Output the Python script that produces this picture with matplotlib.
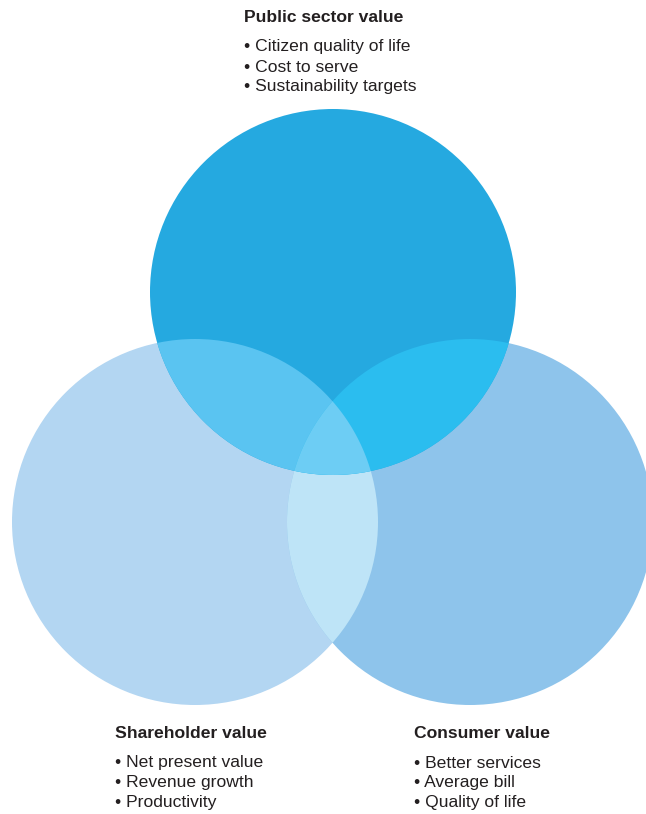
import numpy as np
import matplotlib.pyplot as plt
from matplotlib.patches import Circle, Polygon

plt.rcParams['font.family'] = ['Liberation Sans', 'DejaVu Sans']

# text content
titles = ['Public sector value', 'Shareholder value', 'Consumer value']
bullets = [
    ['Citizen quality of life', 'Cost to serve', 'Sustainability targets'],
    ['Net present value', 'Revenue growth', 'Productivity'],
    ['Better services', 'Average bill', 'Quality of life'],
]

# region colours
col_top = '#25a9e0'
col_left = '#b3d6f2'
col_right = '#8ec4eb'
col_top_left = '#5ac4f1'
col_top_right = '#2bbdef'
col_left_right = '#bee4f7'
col_all = '#6dcdf4'

R = 183
c_top = (333, 292)
c_left = (195, 522)
c_right = (470, 522)

fig = plt.figure(figsize=(6.46, 8.14), dpi=100)
ax = fig.add_axes([0, 0, 1, 1])
ax.set_xlim(0, 646)
ax.set_ylim(814, 0)
ax.set_aspect('equal')
ax.axis('off')


def circ(c, color, z):
    p = Circle(c, R, facecolor=color, edgecolor='none', zorder=z)
    ax.add_patch(p)
    return p


left = circ(c_left, col_left, 1)
right = circ(c_right, col_right, 1)
top = circ(c_top, col_top, 1)

# left & right overlap
lr = circ(c_left, col_left_right, 2)
lr.set_clip_path(Circle(c_right, R, transform=ax.transData))

# top & left, top & right
tl = circ(c_top, col_top_left, 3)
tl.set_clip_path(Circle(c_left, R, transform=ax.transData))
tr = circ(c_top, col_top_right, 3)
tr.set_clip_path(Circle(c_right, R, transform=ax.transData))

# centre: lens of left/right, clipped to top circle
d = (c_right[0] - c_left[0]) / 2
a = np.arccos(d / R)
t1 = np.linspace(-a, a, 100)
t2 = np.linspace(np.pi - a, np.pi + a, 100)
xs = np.concatenate([c_left[0] + R * np.cos(t1), c_right[0] + R * np.cos(t2)])
ys = np.concatenate([c_left[1] + R * np.sin(t1), c_right[1] + R * np.sin(t2)])
lens = Polygon(np.column_stack([xs, ys]), closed=True, facecolor=col_all,
               edgecolor='none', zorder=4)
ax.add_patch(lens)
lens.set_clip_path(Circle(c_top, R, transform=ax.transData))

# labels
positions = [(244, 17), (115, 733), (414, 733)]
for (x, y), title, items in zip(positions, titles, bullets):
    ax.text(x, y, title, fontsize=12.6, fontweight='bold', color='#231f20',
            va='center', ha='left')
    for i, item in enumerate(items):
        ax.text(x, y + 30 + i * 20, '\u2022 ' + item, fontsize=12.6,
                color='#231f20', va='center', ha='left')

fig.savefig('out.png', dpi=100)
